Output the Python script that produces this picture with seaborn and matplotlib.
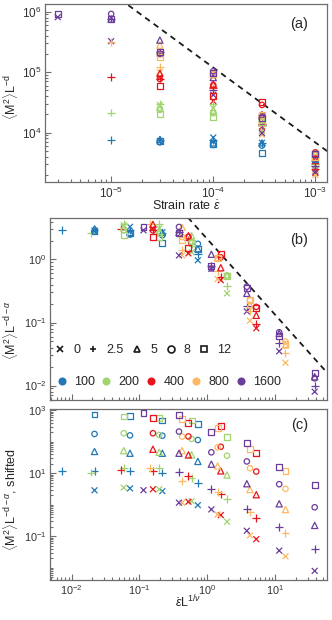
import numpy as np
import pandas as pd
import matplotlib
matplotlib.use("Agg")
import matplotlib.pyplot as plt
import seaborn as sns
from matplotlib.lines import Line2D
from matplotlib.ticker import LogLocator, FixedLocator, LogFormatterSciNotation, NullFormatter

# %% data
rates = [3e-6, 1e-5, 3e-5, 1e-4, 3e-4, 1e-3]
sizes = [100, 200, 400, 800, 1600]
size_labels = ['100', '200', '400', '800', '1600']
param_labels = ['0', '2.5', '5', '8', '12']
nan = np.nan

# collapsed <M^2> L^{-d-alpha}, one list per L, entries follow `rates`
m2_p0 = [[nan, nan, 2.87, 3.3, 2.7, 0.97],
         [nan, nan, 3.5, 3.1, 1.3, 0.29],
         [nan, nan, 3.1, 1.25, 0.47, 0.081],
         [nan, nan, 1.16, 0.49, 0.107, 0.023],
         [2.9, 1.16, 0.71, 0.15, 0.035, 0.008]]
m2_p25 = [[nan, 2.95, 2.95, 2.95, 2.63, 1.2],
          [nan, 2.63, 3.6, 3.6, 1.73, 0.375],
          [nan, 3.1, 2.95, 2.05, 0.53, 0.095],
          [nan, 3.6, 1.43, 0.65, 0.15, 0.0325],
          [nan, 2.75, 0.78, 0.18, 0.048, 0.01]]
m2_p5 = [[nan, nan, 3.06, 2.69, 2.69, 1.48],
         [nan, nan, 3.25, 2.88, 2.38, 0.55],
         [nan, nan, 3.6, 2.38, 0.74, 0.13],
         [nan, nan, 3.25, 1.06, 0.19, 0.044],
         [nan, 2.69, 1.21, 0.29, 0.067, 0.0138]]
m2_p8 = [[nan, nan, 2.75, 2.48, 2.42, 1.77],
         [nan, nan, 2.9, 2.55, 1.92, 0.56],
         [nan, nan, 2.9, 2.3, 1.08, 0.177],
         [nan, nan, 2.27, 1.03, 0.225, 0.05],
         [nan, 3.28, 0.72, 0.37, 0.07, 0.013]]
m2_p12 = [[nan, nan, 2.85, 2.58, 1.84, 1.45],
          [nan, nan, 2.46, 2.25, 1.84, 0.54],
          [nan, nan, 2.25, 1.52, 1.21, 0.17],
          [nan, nan, 2.05, 1.07, 0.23, 0.046],
          [3.24, 2.66, 0.78, 0.35, 0.062, 0.016]]

alpha = 1.7      # L^alpha between panel (a) and (b)
inv_nu = 1.43    # 1/nu
shift = 4.0      # vertical shift factor between parameter sets in (c)
slope_a, amp_a = -1.24, 1.19e5   # dashed guide in (a), amp at rate 1e-4
slope_b, amp_b = -1.2, 2.1       # dashed guide in (b), amp at x = 1

# %% table
rows = []
for j, (lab, tab) in enumerate(zip(param_labels, [m2_p0, m2_p25, m2_p5, m2_p8, m2_p12])):
    for L, vals in zip(sizes, tab):
        for r, v in zip(rates, vals):
            if np.isnan(v):
                continue
            rows.append(dict(param=lab, k=j, L=L, rate=r, f=v))
df = pd.DataFrame(rows)
df['ya'] = df['f'] * df['L'] ** alpha
df['xs'] = df['rate'] * df['L'] ** inv_nu
df['yc'] = df['f'] * shift ** df['k']
df = df.sort_values('L')

colors = ['#2178b6', '#9fd46e', '#e8141c', '#fdb862', '#6a3d9a']
pal = dict(zip(sizes, colors))
mstyle = {'0': ('x', 18, False), '2.5': ('+', 32, False), '5': ('^', 20, True),
          '8': ('o', 15, True), '12': ('s', 18, True)}

# %% figure
sns.set_theme(style='ticks')
plt.rcParams['font.family'] = ['Liberation Sans', 'DejaVu Sans']
plt.rcParams['mathtext.fontset'] = 'custom'
plt.rcParams['mathtext.rm'] = 'Liberation Sans'
plt.rcParams['mathtext.it'] = 'Liberation Sans:italic'

fig = plt.figure(figsize=(3.32, 6.2), dpi=100)
ax_a = fig.add_axes([45/332, 1-182/620, 282/332, 178/620])
ax_b = fig.add_axes([50/332, 1-400/620, 277/332, 182/620])
ax_c = fig.add_axes([50/332, 1-580/620, 277/332, 171/620])

gray = '#6e6e6e'
for ax, xc, yc in [(ax_a, 'rate', 'ya'), (ax_b, 'xs', 'f'), (ax_c, 'xs', 'yc')]:
    ax.set_xscale('log')
    ax.set_yscale('log')
    for lab in param_labels:
        mk, s, hollow = mstyle[lab]
        sub = df[df['param'] == lab]
        sns.scatterplot(data=sub, x=xc, y=yc, hue='L', palette=pal, marker=mk, s=s,
                        linewidth=0.9, legend=False, ax=ax, zorder=3)
        coll = ax.collections[-1]
        if hollow:
            fc = coll.get_facecolors()
            coll.set_edgecolors(fc)
            coll.set_facecolors('none')
    for sp in ax.spines.values():
        sp.set_color(gray)
        sp.set_linewidth(0.9)
    ax.tick_params(which='both', direction='in', top=False, right=False,
                   color=gray, labelcolor='#333333', labelsize=7.8, width=0.8, pad=2.5)
    ax.tick_params(which='major', length=4)
    ax.tick_params(which='minor', length=2.3)
    ax.xaxis.set_minor_locator(LogLocator(base=10, subs=np.arange(2, 10), numticks=100))
    ax.xaxis.set_minor_formatter(NullFormatter())
    ax.set_xlabel('')
    ax.set_ylabel('')
ax_a.tick_params(labelsize=8.5)

# dashed guides
ga = np.array([5e-6, 3e-3])
ax_a.plot(ga, amp_a * (ga / 1e-4) ** slope_a, color='k', ls=(0, (3.2, 2.6)), lw=1.3, zorder=2)
gb = np.array([0.2, 100])
ax_b.plot(gb, amp_b * gb ** slope_b, color='k', ls=(0, (3.2, 2.6)), lw=1.3, zorder=2)

# limits and ticks
ax_a.set_xlim(2.25e-6, 1.3e-3)
ax_a.set_ylim(1.52e3, 1.34e6)
ax_a.yaxis.set_minor_locator(LogLocator(base=10, subs=np.arange(2, 10), numticks=100))
ax_a.yaxis.set_minor_formatter(NullFormatter())

for ax in (ax_b, ax_c):
    ax.set_xlim(4.8e-3, 58)
ax_b.set_ylim(5.9e-3, 4.55)
ax_b.yaxis.set_minor_locator(LogLocator(base=10, subs=np.arange(2, 10), numticks=100))
ax_b.yaxis.set_minor_formatter(NullFormatter())
ax_b.tick_params(labelbottom=False)

ax_c.set_ylim(4.1e-3, 1.09e3)
ax_c.yaxis.set_major_locator(FixedLocator([1e-1, 1e1, 1e3]))
ax_c.yaxis.set_major_formatter(LogFormatterSciNotation())
ax_c.yaxis.set_minor_locator(LogLocator(base=10, subs=np.arange(1, 10), numticks=100))
ax_c.yaxis.set_minor_formatter(NullFormatter())

# labels
ax_a.set_xlabel(r'Strain rate $\dot{\epsilon}$', fontsize=9)
ax_a.xaxis.set_label_coords(0.5, -0.1)
ax_a.set_ylabel(r'$\langle\mathrm{M}^2\rangle\mathrm{L}^{-\mathrm{d}}$', fontsize=9)
ax_a.yaxis.set_label_coords(-0.09, 0.478)
ax_b.set_ylabel(r'$\langle\mathrm{M}^2\rangle\mathrm{L}^{-\mathrm{d}-\alpha}$', fontsize=9)
ax_b.yaxis.set_label_coords(-0.11, 0.385)
ax_c.set_ylabel(r'$\langle\mathrm{M}^2\rangle\mathrm{L}^{-\mathrm{d}-\alpha}$, shifted', fontsize=9)
ax_c.yaxis.set_label_coords(-0.11, 0.468)
ax_c.set_xlabel(r'$\dot{\epsilon}\mathrm{L}^{1/\nu}$', fontsize=9)
ax_c.xaxis.set_label_coords(0.5, -0.08)

ax_a.text(0.90, 0.89, '(a)', transform=ax_a.transAxes, ha='center', va='center', fontsize=10.5)
ax_b.text(0.90, 0.879, '(b)', transform=ax_b.transAxes, ha='center', va='center', fontsize=10.5)
ax_c.text(0.90, 0.906, '(c)', transform=ax_c.transAxes, ha='center', va='center', fontsize=10.5)

# legends in (b)
h1 = [Line2D([], [], ls='none', marker=mstyle[p][0], color='k', markerfacecolor='none',
             markersize=5, markeredgewidth=1.2) for p in param_labels]
leg1 = ax_b.legend(h1, param_labels, ncol=5, loc='center left', bbox_to_anchor=(0.018, 0.275),
                   frameon=False, fontsize=9, handlelength=0.8, handletextpad=0.66,
                   columnspacing=0.66, borderpad=0, borderaxespad=0)
ax_b.add_artist(leg1)
h2 = [Line2D([], [], ls='none', marker='o', color=c, markersize=4.8) for c in colors]
ax_b.legend(h2, size_labels, ncol=5, loc='center left', bbox_to_anchor=(0.024, 0.099),
            frameon=False, fontsize=9, handlelength=0.8, handletextpad=0.59,
            columnspacing=0.51, borderpad=0, borderaxespad=0)

fig.savefig('out.png', dpi=100)
